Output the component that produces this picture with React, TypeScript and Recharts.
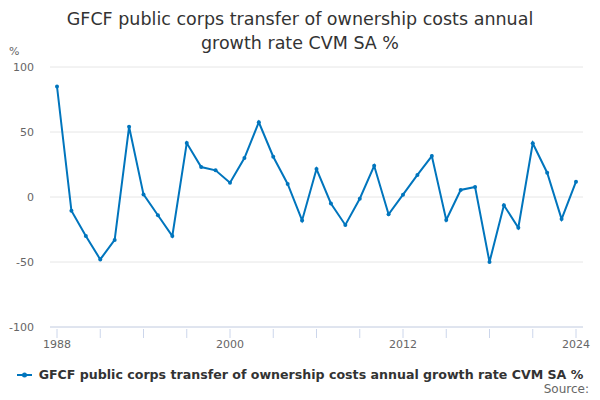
import React from "react";
import { LineChart, Line, XAxis, YAxis, CartesianGrid } from "recharts";

const years = [
  1988, 1989, 1990, 1991, 1992, 1993, 1994, 1995, 1996, 1997, 1998, 1999, 2000,
  2001, 2002, 2003, 2004, 2005, 2006, 2007, 2008, 2009, 2010, 2011, 2012, 2013,
  2014, 2015, 2016, 2017, 2018, 2019, 2020, 2021, 2022, 2023, 2024,
];
const growth = [
  85, -10.5, -30, -48, -33, 54, 2, -14, -30, 41.5, 23, 20.5, 11,
  30, 57.5, 31, 10, -18, 21.5, -5, -21.5, -1.3, 24, -13.3, 1.8, 17,
  31.5, -17.7, 5.4, 7.7, -50, -6.4, -23.6, 41.3, 18.7, -17, 11.8,
];
const xTicks = [1988, 1991, 1994, 1997, 2000, 2003, 2006, 2009, 2012, 2015, 2018, 2021, 2024];
const xLabels = [1988, 2000, 2012, 2024];
const yTicks = [-100, -50, 0, 50, 100];

const SERIES = "GFCF public corps transfer of ownership costs annual growth rate CVM SA %";
const FONT = "'DejaVu Sans', sans-serif";
const BLUE = "#0075bd";

const data = years.map((y, i) => ({ year: y, value: growth[i] }));

function XTick(props: any) {
  const { x, y, payload } = props;
  return (
    <g>
      <line x1={x} x2={x} y1={y} y2={y + 9} stroke="#ccd6eb" />
      {xLabels.includes(payload.value) && (
        <text x={x} y={y + 19} textAnchor="middle" fontSize={11} fill="#666" fontFamily={FONT}>
          {payload.value}
        </text>
      )}
    </g>
  );
}

export default function App() {
  return (
    <div style={{ position: "absolute", left: 0, top: 0, width: 600, height: 400, background: "#fff" }}>
      <div
        style={{
          position: "absolute", left: 0, top: 7, width: 600, textAlign: "center",
          fontFamily: FONT, fontSize: 17.5, lineHeight: "24px", color: "#333",
        }}
      >
        GFCF public corps transfer of ownership costs annual
        <br />
        growth rate CVM SA %
      </div>
      <div style={{ position: "absolute", left: 9, top: 45, fontFamily: FONT, fontSize: 11, color: "#666" }}>%</div>
      <LineChart width={600} height={400} data={data} margin={{ top: 67, right: 17, bottom: 43, left: 0 }}>
        <CartesianGrid vertical={false} stroke="#e6e6e6" />
        <XAxis
          dataKey="year"
          type="number"
          domain={[1988, 2024]}
          ticks={xTicks}
          padding={{ left: 7, right: 7 }}
          stroke="#ccd6eb"
          tickLine={false}
          tickSize={0}
          tick={<XTick />}
          interval={0}
          height={30}
        />
        <YAxis
          domain={[-100, 100]}
          ticks={yTicks}
          width={50}
          axisLine={false}
          tickLine={false}
          tickSize={0}
          tickMargin={16}
          tick={{ fontSize: 11, fill: "#666", fontFamily: FONT }}
        />
        <Line
          type="linear"
          dataKey="value"
          stroke={BLUE}
          strokeWidth={2}
          dot={{ r: 2, fill: BLUE, stroke: BLUE, strokeWidth: 0 }}
          isAnimationActive={false}
        />
      </LineChart>
      <div
        style={{
          position: "absolute", left: 0, top: 367, width: 600, display: "flex",
          justifyContent: "center", alignItems: "center", fontFamily: FONT,
        }}
      >
        <svg width={15} height={10} style={{ marginRight: 7 }}>
          <line x1={0} x2={15} y1={5} y2={5} stroke={BLUE} strokeWidth={2} />
          <circle cx={7.5} cy={5} r={2.5} fill={BLUE} />
        </svg>
        <span style={{ fontSize: 12.6, fontWeight: 700, color: "#333" }}>{SERIES}</span>
      </div>
      <div style={{ position: "absolute", right: 11, top: 382, fontFamily: FONT, fontSize: 12, color: "#666" }}>
        Source:
      </div>
    </div>
  );
}
